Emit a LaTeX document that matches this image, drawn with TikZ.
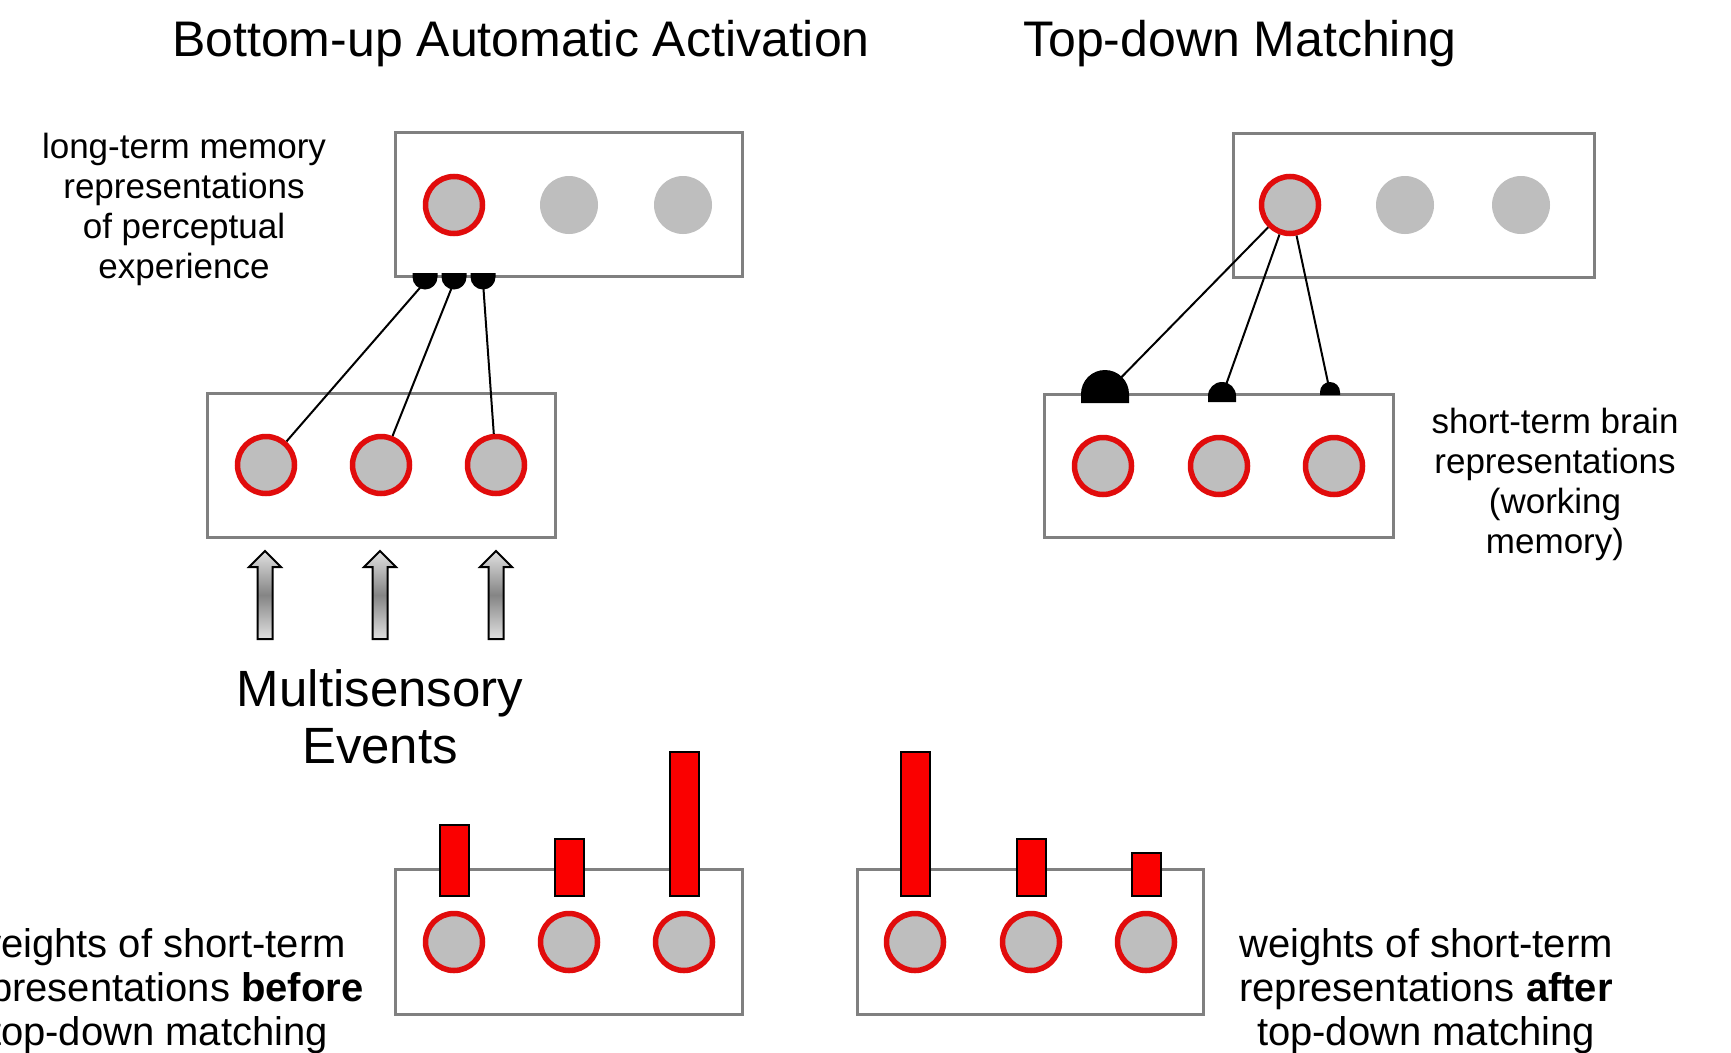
\documentclass[tikz,border=0pt]{standalone}
\usepackage{fontspec}
\setmainfont{Liberation Sans}
\usetikzlibrary{calc}
\definecolor{ringred}{RGB}{225,12,12}
\definecolor{barred}{RGB}{250,0,0}
\definecolor{dotgray}{RGB}{190,190,190}
\definecolor{boxgray}{RGB}{128,128,128}
\newcommand\myfs[2]{\fontsize{#1}{#2}\selectfont}
\begin{document}
\begin{tikzpicture}[x=1pt,y=-1pt,
  layerbox/.style={draw=boxgray, line width=3, inner sep=0, outer sep=0, fill=white},
  ring/.style={circle, draw=ringred, line width=5.5, fill=dotgray, minimum size=57, inner sep=0},
  dot/.style={circle, fill=dotgray, minimum size=58, inner sep=0},
  link/.style={draw=black, line width=2},
  bump/.style={fill=black},
  bar/.style={draw=black, line width=2, fill=barred, minimum width=29, inner sep=0, anchor=south},
  blockarrow/.style={draw=black, line width=2, top color=black!12, bottom color=black!12, middle color=black!48},
  title/.style={font=\myfs{50}{60}, anchor=base, inner sep=0},
  label/.style={font=\myfs{35}{40}, align=center, anchor=north, inner sep=0},
  biglabel/.style={font=\myfs{51}{57}, align=center, anchor=north, inner sep=0},
  weightlabel/.style={font=\myfs{40}{44}, align=center, anchor=north, inner sep=0},
]
\fill[white] (0,0) rectangle (1731,1052);
\clip (0,0) rectangle (1731,1052);

% titles
\node[title] (t1) at (521,56) {Bottom-up Automatic Activation};
\node[title] (t2) at (1240,56) {Top-down Matching};

% boxes
\node[layerbox, minimum width=347, minimum height=144] (ltmL) at (568.5,204) {};
\node[layerbox, minimum width=348, minimum height=144] (stmL) at (381,465) {};
\node[layerbox, minimum width=361, minimum height=144] (ltmR) at (1413.5,205) {};
\node[layerbox, minimum width=349, minimum height=143] (stmR) at (1218.5,465.5) {};
\node[layerbox, minimum width=347, minimum height=145] (wB) at (568.5,941.5) {};
\node[layerbox, minimum width=346, minimum height=145] (wA) at (1030,941.5) {};

% long-term memory units
\node[ring] (lL1) at (454,205) {};
\node[dot]  (lL2) at (569,205) {};
\node[dot]  (lL3) at (683,205) {};
\node[ring] (lR1) at (1290,205) {};
\node[dot]  (lR2) at (1405,205) {};
\node[dot]  (lR3) at (1521,205) {};

% short-term units
\node[ring] (sL1) at (266,465) {};
\node[ring] (sL2) at (381,465) {};
\node[ring] (sL3) at (496,465) {};
\node[ring] (sR1) at (1103,466) {};
\node[ring] (sR2) at (1219,466) {};
\node[ring] (sR3) at (1334,466) {};

% weight units
\node[ring] (bw1) at (454,942) {};
\node[ring] (bw2) at (569,942) {};
\node[ring] (bw3) at (684,942) {};
\node[ring] (aw1) at (915,942) {};
\node[ring] (aw2) at (1031,942) {};
\node[ring] (aw3) at (1146,942) {};

% bars
\node[bar, minimum height=71]  (bb1) at (454,897) {};
\node[bar, minimum height=57]  (bb2) at (569,897) {};
\node[bar, minimum height=144] (bb3) at (684,897) {};
\node[bar, minimum height=144] (ab1) at (915,897) {};
\node[bar, minimum height=57]  (ab2) at (1031,897) {};
\node[bar, minimum height=43]  (ab3) at (1146,897) {};

% bottom-up synapses
\coordinate (sy1) at (425,282);
\coordinate (sy2) at (454,282);
\coordinate (sy3) at (483,282);
\draw[link] (sy1) -- (sL1);
\draw[link] (sy2) -- (sL2);
\draw[link] (sy3) -- (sL3);
\foreach \x in {425,454,483}{
  \fill[bump] (\x-12.5,273) -- (\x+12.5,273) -- (\x+12.5,277) arc (0:180:12.5) -- cycle;
}

% top-down synapses
\coordinate (ty1) at (1105,394);
\coordinate (ty2) at (1222,396);
\coordinate (ty3) at (1330,392);
\draw[link] (lR1) -- (ty1);
\draw[link] (lR1) -- (ty2);
\draw[link] (lR1) -- (ty3);
\fill[bump] (1081,403) -- (1129,403) -- (1129,394) arc (0:-180:24) -- cycle;
\fill[bump] (1208,402) -- (1236,402) -- (1236,396) arc (0:-180:14) -- cycle;
\fill[bump] (1320,395) -- (1340,395) -- (1340,392) arc (0:-180:10) -- cycle;

% input arrows
\foreach \x/\n in {265/1,380/2,496/3}{
  \coordinate (in\n) at (\x,639);
  \shadedraw[blockarrow] (\x-7.5,639) -- (\x-7.5,567) -- (\x-16,567) -- (\x,551)
     -- (\x+16,567) -- (\x+7.5,567) -- (\x+7.5,639) -- cycle;
}

% labels
\node[label] (lab1) at (184,133) {long-term memory\\representations\\of perceptual\\experience};
\node[label] (lab2) at (1555,408) {short-term brain\\representations\\(working\\memory)};
\node[biglabel] (lab3) at (380,669) {Multisensory\\Events};
\node[weightlabel] (lab4) at (159,928) {weights of short-term\\representations \textbf{before}\\top-down matching};
\node[weightlabel] (lab5) at (1426,928) {weights of short-term\\representations \textbf{after}\\top-down matching};
\end{tikzpicture}
\end{document}
